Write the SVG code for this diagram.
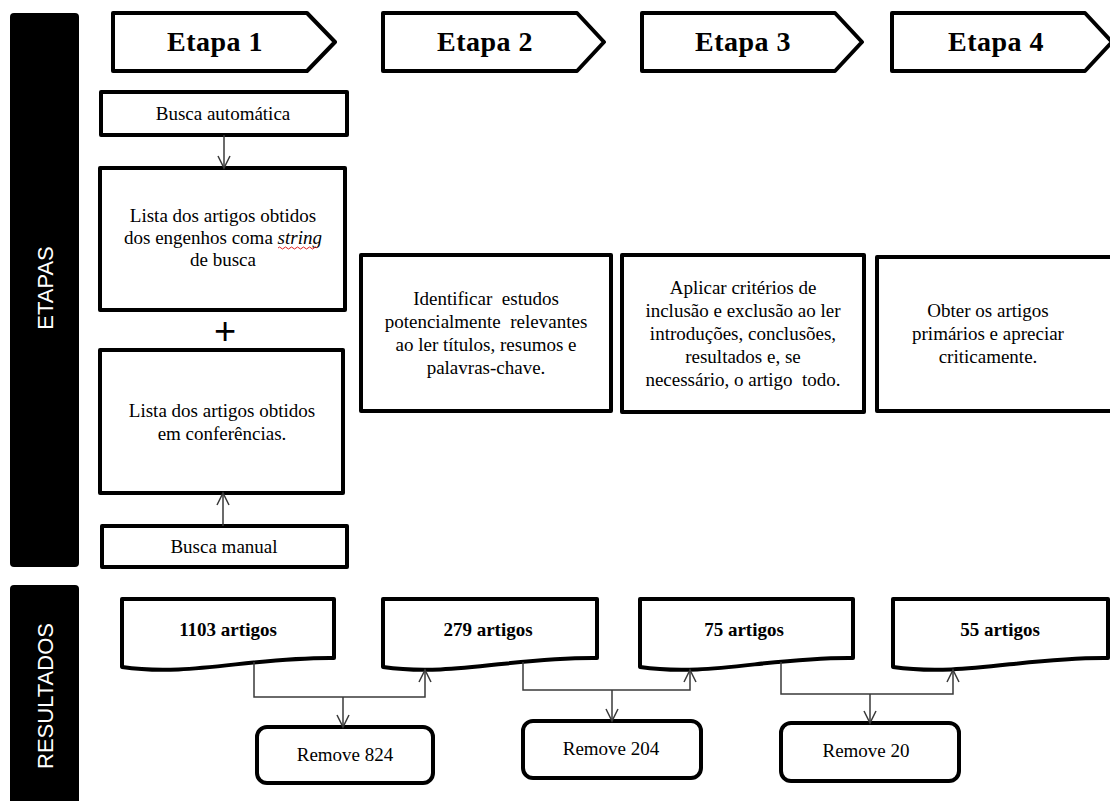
<svg xmlns="http://www.w3.org/2000/svg" width="1110" height="801" viewBox="0 0 1110 801">
<style>
.box{fill:#fff;stroke:#000;stroke-width:4;stroke-linejoin:round}
.bar{fill:#000}
.t{font-family:"Liberation Serif","Times New Roman",serif;font-size:19px;fill:#000;text-anchor:middle}
.h{font-family:"Liberation Serif","Times New Roman",serif;font-size:28px;font-weight:bold;fill:#000;text-anchor:middle;letter-spacing:0.5px}
.b{font-family:"Liberation Serif","Times New Roman",serif;font-size:19px;font-weight:bold;fill:#000;text-anchor:middle}
.v{font-family:"Liberation Sans",Arial,sans-serif;font-size:22px;fill:#fff;text-anchor:middle}
.c{fill:none;stroke:#3a3a3a;stroke-width:1.5}
</style>
<defs>
<marker id="arr" markerWidth="16" markerHeight="16" refX="13" refY="7" orient="auto" markerUnits="userSpaceOnUse">
<path d="M1,1 L13,7 L1,13" fill="none" stroke="#3a3a3a" stroke-width="1.5"/>
</marker>
</defs>

<g id="lane-etapas">
<rect class="bar" x="10" y="13" width="69" height="554" rx="4"/>
<text class="v" transform="translate(53,288) rotate(-90)">ETAPAS</text>
</g>
<g id="lane-resultados">
<rect class="bar" x="10" y="585" width="69" height="220" rx="4"/>
<text class="v" transform="translate(53,696) rotate(-90)">RESULTADOS</text>
</g>

<g id="etapa1"><polygon class="box" points="113,13 307,13 335,42 307,71 113,71"/><text class="h" x="215" y="51">Etapa 1</text></g>
<g id="etapa2"><polygon class="box" points="383,13 577,13 604,42 577,71 383,71"/><text class="h" x="485" y="51">Etapa 2</text></g>
<g id="etapa3"><polygon class="box" points="642,13 835,13 862,42 835,71 642,71"/><text class="h" x="743" y="51">Etapa 3</text></g>
<g id="etapa4"><polygon class="box" points="892,13 1085,13 1112,42 1085,71 892,71"/><text class="h" x="996" y="51">Etapa 4</text></g>

<g id="busca-automatica"><rect class="box" x="101" y="92" width="246" height="43"/><text class="t" x="223" y="120">Busca automática</text></g>
<g id="lista-engenhos"><rect class="box" x="100" y="168" width="245" height="142"/>
<text class="t" x="223" y="222">Lista dos artigos obtidos</text>
<text class="t" x="223" y="244">dos engenhos coma <tspan font-style="italic">string</tspan></text>
<path d="M278,248 q1.5,-2 3,0 t3,0 t3,0 t3,0 t3,0 t3,0 t3,0 t3,0 t3,0 t3,0 t3,0 t3,0 t3,0" fill="none" stroke="#e02020" stroke-width="1"/>
<text class="t" x="223" y="266">de busca</text></g>
<g id="plus"><text x="225" y="344" font-family="Liberation Sans,Arial,sans-serif" font-size="38" text-anchor="middle" fill="#000">+</text></g>
<g id="lista-conferencias"><rect class="box" x="100" y="350" width="243" height="143"/>
<text class="t" x="222" y="417">Lista dos artigos obtidos</text>
<text class="t" x="222" y="440">em conferências.</text></g>
<g id="busca-manual"><rect class="box" x="102" y="526" width="245" height="41"/><text class="t" x="224" y="553">Busca manual</text></g>

<g id="passo2"><rect class="box" x="361" y="255" width="250" height="156"/>
<text class="t" x="486" y="305" xml:space="preserve">Identificar  estudos</text>
<text class="t" x="486" y="328" xml:space="preserve">potencialmente  relevantes</text>
<text class="t" x="486" y="351">ao ler títulos, resumos e</text>
<text class="t" x="486" y="374">palavras-chave.</text></g>
<g id="passo3"><rect class="box" x="622" y="255" width="242" height="157"/>
<text class="t" x="743" y="294">Aplicar critérios de</text>
<text class="t" x="743" y="317">inclusão e exclusão ao ler</text>
<text class="t" x="743" y="340">introduções, conclusões,</text>
<text class="t" x="743" y="363">resultados e, se</text>
<text class="t" x="743" y="386" xml:space="preserve">necessário, o artigo  todo.</text></g>
<g id="passo4"><rect class="box" x="877" y="257" width="240" height="154"/>
<text class="t" x="988" y="317">Obter os artigos</text>
<text class="t" x="988" y="340">primários e apreciar</text>
<text class="t" x="988" y="363">criticamente.</text></g>

<g id="res1"><path class="box" d="M122,599 H334 V658 C250,657 190,677 122,667 Z"/><text class="b" x="228" y="636">1103 artigos</text></g>
<g id="res2"><path class="box" d="M383,599 H597 V658 C513,657 452,677 383,667 Z"/><text class="b" x="488" y="636">279 artigos</text></g>
<g id="res3"><path class="box" d="M640,599 H853 V658 C769,657 709,677 640,667 Z"/><text class="b" x="744" y="636">75 artigos</text></g>
<g id="res4"><path class="box" d="M893,599 H1108 V658 C1024,657 963,677 893,667 Z"/><text class="b" x="1000" y="636">55 artigos</text></g>

<g id="rem1"><rect class="box" x="257" y="727" width="176" height="56" rx="10"/><text class="t" x="345" y="761">Remove 824</text></g>
<g id="rem2"><rect class="box" x="523" y="721" width="178" height="57" rx="10"/><text class="t" x="611" y="755">Remove 204</text></g>
<g id="rem3"><rect class="box" x="781" y="723" width="178" height="58" rx="10"/><text class="t" x="866" y="757">Remove 20</text></g>

<g id="connectors">
<line class="c" x1="224" y1="135" x2="224" y2="168" marker-end="url(#arr)"/>
<line class="c" x1="223" y1="526" x2="223" y2="493" marker-end="url(#arr)"/>
<path class="c" d="M254,662 V697 H425 V670" marker-end="url(#arr)"/>
<line class="c" x1="343" y1="697" x2="343" y2="727" marker-end="url(#arr)"/>
<path class="c" d="M523,662 V690 H690 V670" marker-end="url(#arr)"/>
<line class="c" x1="612" y1="690" x2="612" y2="721" marker-end="url(#arr)"/>
<path class="c" d="M781,662 V694 H953 V670" marker-end="url(#arr)"/>
<line class="c" x1="870" y1="694" x2="870" y2="723" marker-end="url(#arr)"/>
</g>
</svg>
